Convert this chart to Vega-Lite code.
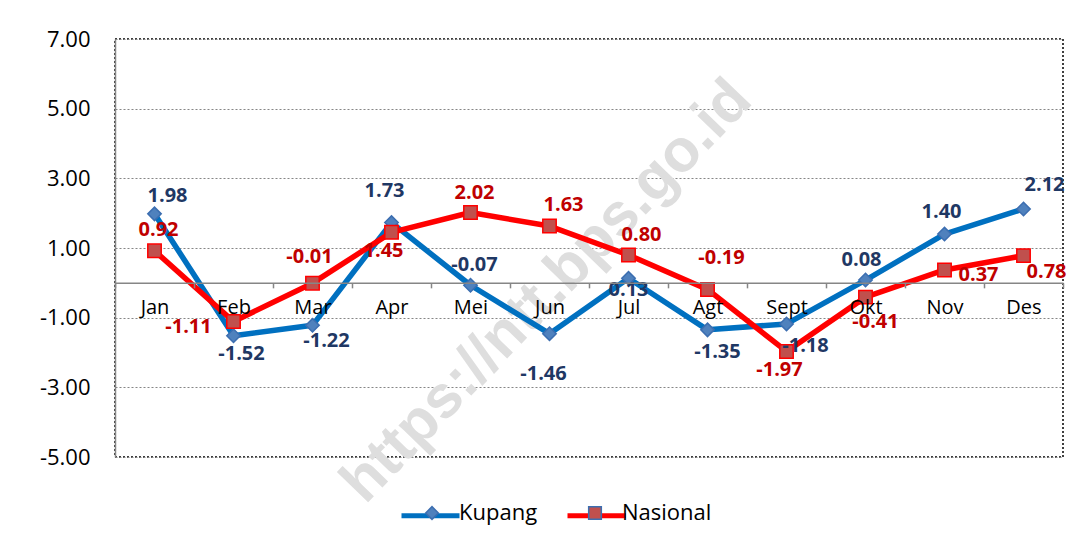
{
  "$schema": "https://vega.github.io/schema/vega-lite/v6.json",
  "width": 948,
  "height": 418,
  "autosize": {"type": "none"},
  "padding": {"left": 115, "top": 39, "right": 28, "bottom": 89},
  "background": "white",
  "datasets": {
    "infl": [
      {"month": "Jan", "series": "Kupang", "value": 1.98},
      {"month": "Feb", "series": "Kupang", "value": -1.52},
      {"month": "Mar", "series": "Kupang", "value": -1.22},
      {"month": "Apr", "series": "Kupang", "value": 1.73},
      {"month": "Mei", "series": "Kupang", "value": -0.07},
      {"month": "Jun", "series": "Kupang", "value": -1.46},
      {"month": "Jul", "series": "Kupang", "value": 0.13},
      {"month": "Agt", "series": "Kupang", "value": -1.35},
      {"month": "Sept", "series": "Kupang", "value": -1.18},
      {"month": "Okt", "series": "Kupang", "value": 0.08},
      {"month": "Nov", "series": "Kupang", "value": 1.40},
      {"month": "Des", "series": "Kupang", "value": 2.12},
      {"month": "Jan", "series": "Nasional", "value": 0.92},
      {"month": "Feb", "series": "Nasional", "value": -1.11},
      {"month": "Mar", "series": "Nasional", "value": -0.01},
      {"month": "Apr", "series": "Nasional", "value": 1.45},
      {"month": "Mei", "series": "Nasional", "value": 2.02},
      {"month": "Jun", "series": "Nasional", "value": 1.63},
      {"month": "Jul", "series": "Nasional", "value": 0.80},
      {"month": "Agt", "series": "Nasional", "value": -0.19},
      {"month": "Sept", "series": "Nasional", "value": -1.97},
      {"month": "Okt", "series": "Nasional", "value": -0.41},
      {"month": "Nov", "series": "Nasional", "value": 0.37},
      {"month": "Des", "series": "Nasional", "value": 0.78}
    ],
    "wm": [{"t": "https://ntt.bps.go.id", "month": "Jun", "value": 0}]
  },
  "data": {"name": "infl"},
  "encoding": {
    "x": {
      "field": "month",
      "type": "ordinal",
      "sort": ["Jan","Feb","Mar","Apr","Mei","Jun","Jul","Agt","Sept","Okt","Nov","Des"],
      "scale": {"type": "band", "paddingInner": 0, "paddingOuter": 0},
      "axis": {
        "title": null,
        "orient": "bottom",
        "offset": -174.17,
        "zindex": 1,
        "tickBand": "extent",
        "ticks": true,
        "tickSize": 5,
        "tickColor": "#868686",
        "tickWidth": 1.5,
        "domainColor": "#868686",
        "domainWidth": 1.5,
        "labelAngle": 0,
        "labelFontSize": 20,
        "labelColor": "#000000",
        "labelPadding": 10,
        "grid": false
      }
    },
    "y": {
      "field": "value",
      "type": "quantitative",
      "scale": {"domain": [-5, 7], "nice": false, "zero": false},
      "axis": {
        "title": null,
        "values": [-5, -3, -1, 1, 3, 5, 7],
        "format": ".2f",
        "ticks": false,
        "labelFontSize": 22,
        "labelColor": "#000000",
        "labelPadding": 25,
        "domainColor": "#868686",
        "domainWidth": 1.5,
        "grid": true,
        "gridColor": "#868686",
        "gridDash": [2, 2],
        "gridWidth": 1.2
      }
    }
  },
  "layer": [
    {
      "data": {"name": "wm"},
      "mark": {"type": "text", "angle": 314, "fontSize": 60, "font": "Liberation Sans", "fontWeight": "bold", "color": "#DEDEDE", "align": "center", "baseline": "middle", "dx": -8, "dy": 4},
      "encoding": {
        "text": {"field": "t", "type": "nominal"}
      }
    },
    {
      "mark": {"type": "line", "strokeWidth": 5.5, "strokeJoin": "round"},
      "encoding": {
        "stroke": {
          "field": "series",
          "type": "nominal",
          "scale": {"domain": ["Kupang", "Nasional"], "range": ["#0070C0", "#FF0000"]},
          "legend": {
            "orient": "none",
            "legendX": 284,
            "legendY": 445,
            "direction": "horizontal",
            "title": null,
            "padding": 0,
            "symbolType": "stroke",
            "symbolSize": 3364,
            "symbolStrokeWidth": 5,
            "labelFontSize": 22,
            "labelOpacity": 0,
            "labelOffset": 3,
            "columnPadding": 13
          }
        }
      }
    },
    {
      "mark": {"type": "point", "filled": true, "size": 180, "opacity": 1, "strokeWidth": 1.5},
      "encoding": {
        "fill": {
          "field": "series",
          "type": "nominal",
          "scale": {"range": ["#4F81BD", "#C0504D"]},
          "legend": {
            "orient": "none",
            "legendX": 306,
            "legendY": 463,
            "direction": "horizontal",
            "title": null,
            "padding": 0,
            "symbolSize": 160,
            "symbolStrokeWidth": 1.5,
            "labelFontSize": 22,
            "labelColor": "#000000",
            "labelOffset": 16,
            "columnPadding": 46,
            "encode": {
              "symbols": {
                "update": {
                  "stroke": {"signal": "datum.label === 'Nasional' ? '#FF0000' : '#3C6EB0'"},
                  "strokeWidth": {"value": 1.5},
                  "opacity": {"value": 1}
                }
              }
            }
          }
        },
        "shape": {
          "field": "series",
          "type": "nominal",
          "scale": {"range": ["diamond", "square"]}
        },
        "stroke": {
          "condition": {"test": "datum.series === 'Nasional'", "value": "#FF0000"},
          "value": "#3C6EB0"
        }
      }
    },
    {
      "transform": [{"filter": "datum.series === 'Kupang'"}],
      "mark": {
        "type": "text",
        "fontSize": 20,
        "fontWeight": "bold",
        "color": "#1F3864",
        "align": "center",
        "baseline": "middle",
        "dx": {"expr": "[13,8,14,-7,4,-6,0,10,19,-4,-3,21][indexof(['Jan','Feb','Mar','Apr','Mei','Jun','Jul','Agt','Sept','Okt','Nov','Des'], datum.month)]"},
        "dy": {"expr": "[-18,18,16,-32,-20,40,12,22,22,-20,-22,-24][indexof(['Jan','Feb','Mar','Apr','Mei','Jun','Jul','Agt','Sept','Okt','Nov','Des'], datum.month)]"}
      },
      "encoding": {
        "text": {"field": "value", "type": "quantitative", "format": ".2f"}
      }
    },
    {
      "transform": [{"filter": "datum.series === 'Nasional'"}],
      "mark": {
        "type": "text",
        "fontSize": 20,
        "fontWeight": "bold",
        "color": "#C00000",
        "align": "center",
        "baseline": "middle",
        "dx": {"expr": "[4,-45,-3,-8,4,14,13,14,-7,10,34,23][indexof(['Jan','Feb','Mar','Apr','Mei','Jun','Jul','Agt','Sept','Okt','Nov','Des'], datum.month)]"},
        "dy": {"expr": "[-21,6,-26,19,-19,-21,-20,-31,19,25,5,16][indexof(['Jan','Feb','Mar','Apr','Mei','Jun','Jul','Agt','Sept','Okt','Nov','Des'], datum.month)]"}
      },
      "encoding": {
        "text": {"field": "value", "type": "quantitative", "format": ".2f"}
      }
    }
  ],
  "config": {
    "font": "Open Sans",
    "locale": {
      "number": {"decimal": ".", "thousands": ",", "grouping": [3], "currency": ["", ""], "minus": "-"}
    },
    "view": {"stroke": "#000000", "strokeDash": [2, 2], "strokeWidth": 1.5},
    "legend": {"labelFont": "Open Sans"},
    "axis": {"labelFont": "Open Sans"}
  }
}
